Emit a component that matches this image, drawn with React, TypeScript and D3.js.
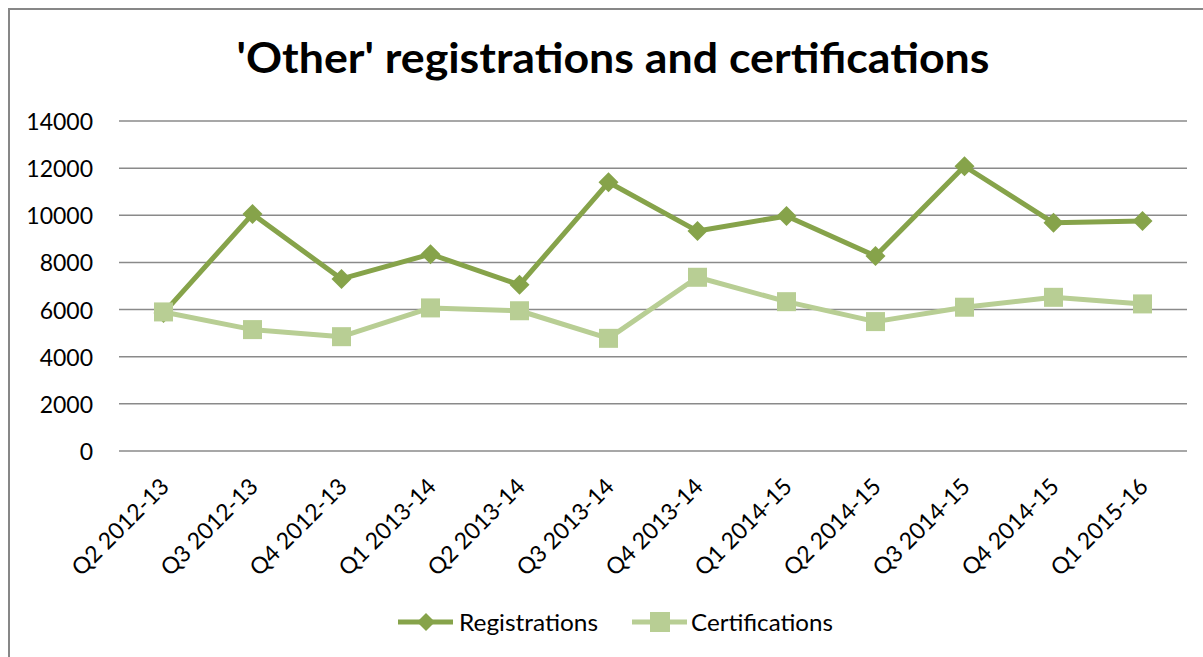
import React from "react";
import * as d3 from "d3";

const categories = [
  "Q2 2012-13", "Q3 2012-13", "Q4 2012-13", "Q1 2013-14", "Q2 2013-14", "Q3 2013-14",
  "Q4 2013-14", "Q1 2014-15", "Q2 2014-15", "Q3 2014-15", "Q4 2014-15", "Q1 2015-16",
];
const registrations = [5850, 10050, 7300, 8350, 7050, 11400, 9330, 9970, 8270, 12080, 9680, 9760];
const certifications = [5900, 5150, 4850, 6070, 5950, 4780, 7370, 6335, 5490, 6100, 6520, 6240];
const yTicks = [0, 2000, 4000, 6000, 8000, 10000, 12000, 14000];
const title = "'Other' registrations and certifications";
const seriesNames = ["Registrations", "Certifications"];

const REG_COLOR = "#86A34A";
const CERT_COLOR = "#B8CE94";
const GRID = "#8a8a8a";
const FONT = "Lato, 'Open Sans', sans-serif";

export default function App() {
  const W = 1203, H = 657;
  const x = d3.scaleBand<string>().domain(categories).range([119, 1187]);
  const y = d3.scaleLinear().domain([0, 14000]).range([451, 121]);
  const cx = (c: string) => (x(c) as number) + x.bandwidth() / 2;

  const line = d3.line<[number, number]>().x((d) => d[0]).y((d) => d[1]);
  const regPts: [number, number][] = categories.map((c, i) => [cx(c), y(registrations[i])]);
  const certPts: [number, number][] = categories.map((c, i) => [cx(c), y(certifications[i])]);

  const diamond = (px: number, py: number, r: number) =>
    `M${px},${py - r}L${px + r},${py}L${px},${py + r}L${px - r},${py}Z`;

  const legendY = 622;

  return (
    <svg width={W} height={H} style={{ position: "absolute", left: 0, top: 0, display: "block", background: "#fff" }}>
      <rect x={0} y={0} width={W} height={H} fill="#fff" />
      <rect x={9} y={9} width={1400} height={900} fill="none" stroke="#878787" strokeWidth={2} />
      <text x={613} y={73} textAnchor="middle" fontFamily={FONT} fontWeight={700} fontSize={42}
        textLength={753} lengthAdjust="spacingAndGlyphs" fill="#000">{title}</text>

      {yTicks.map((t) => (
        <g key={t}>
          <line x1={119} x2={1187} y1={y(t)} y2={y(t)} stroke={GRID} strokeWidth={1.5} />
          <text x={93} y={y(t)} textAnchor="end" dominantBaseline="central" fontFamily={FONT} fontSize={23} fill="#000">{t}</text>
        </g>
      ))}

      {categories.map((c) => {
        const ax = cx(c) + 7, ay = 488;
        return (
          <text key={c} x={ax} y={ay} transform={`rotate(-45 ${ax} ${ay})`} textAnchor="end"
            fontFamily={FONT} fontSize={23} fill="#000">{c}</text>
        );
      })}

      <path d={line(regPts) || ""} fill="none" stroke={REG_COLOR} strokeWidth={5} strokeLinejoin="round" />
      {regPts.map((p, i) => (
        <path key={i} d={diamond(p[0], p[1], 10)} fill={REG_COLOR} />
      ))}
      <path d={line(certPts) || ""} fill="none" stroke={CERT_COLOR} strokeWidth={5} strokeLinejoin="round" />
      {certPts.map((p, i) => (
        <rect key={i} x={p[0] - 9.5} y={p[1] - 9.5} width={19} height={19} fill={CERT_COLOR} />
      ))}

      <line x1={398} x2={453} y1={legendY} y2={legendY} stroke={REG_COLOR} strokeWidth={5} />
      <path d={diamond(426, legendY, 9)} fill={REG_COLOR} />
      <text x={459} y={legendY} dominantBaseline="central" fontFamily={FONT} fontSize={23}
        textLength={139} lengthAdjust="spacingAndGlyphs" fill="#000">{seriesNames[0]}</text>

      <line x1={632} x2={687} y1={legendY} y2={legendY} stroke={CERT_COLOR} strokeWidth={5} />
      <rect x={650} y={legendY - 10} width={20} height={20} fill={CERT_COLOR} />
      <text x={691} y={legendY} dominantBaseline="central" fontFamily={FONT} fontSize={23}
        textLength={142} lengthAdjust="spacingAndGlyphs" fill="#000">{seriesNames[1]}</text>
    </svg>
  );
}
